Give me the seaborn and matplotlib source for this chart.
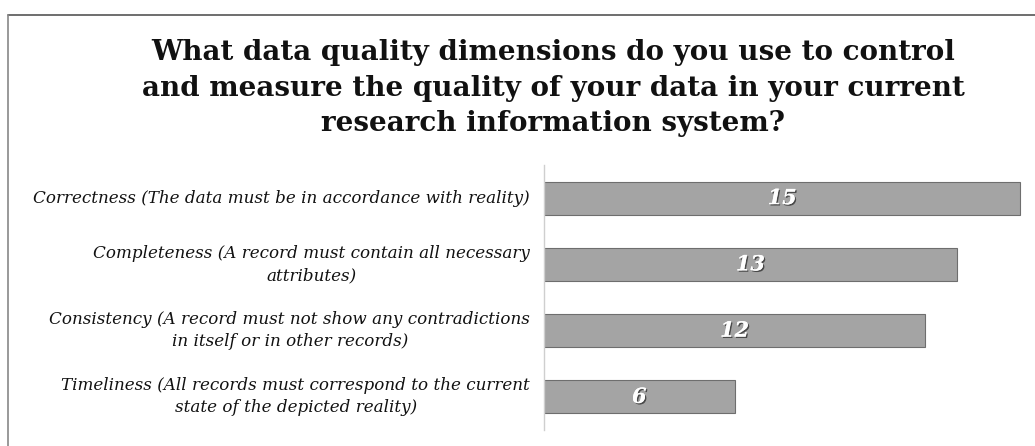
import matplotlib
matplotlib.use("Agg")
import matplotlib.pyplot as plt
import matplotlib.patheffects as pe
from matplotlib.lines import Line2D
import seaborn as sns
import pandas as pd

categories = [
    "Correctness (The data must be in accordance with reality)",
    "Completeness (A record must contain all necessary\nattributes)",
    "Consistency (A record must not show any contradictions\nin itself or in other records)",
    "Timeliness (All records must correspond to the current\nstate of the depicted reality)",
]
values = [15, 13, 12, 6]
title = ("What data quality dimensions do you use to control\n"
         "and measure the quality of your data in your current\n"
         "research information system?")

sns.set_theme(style="white")
plt.rcParams['font.family'] = ['DejaVu Serif']

df = pd.DataFrame({"dim": categories, "count": values})

fig = plt.figure(figsize=(10.35, 4.46), dpi=100)
ax = fig.add_axes([544/1035, 1-430/446, 478/1035, 265/446])

sns.barplot(data=df, y="dim", x="count", orient="h", ax=ax, width=0.5,
            color="#a4a4a4", edgecolor="#6e6e6e", linewidth=0.8, saturation=1)

ax.set_xlim(0, 15.05)
ax.set_ylim(3.5, -0.5)
ax.set_xlabel("")
ax.set_ylabel("")
ax.set_xticks([])
for s in ["top", "right", "bottom"]:
    ax.spines[s].set_visible(False)
ax.spines["left"].set_color("#cfcfcf")
ax.spines["left"].set_linewidth(1.0)
ax.tick_params(axis="y", length=0, pad=10)
for lbl in ax.get_yticklabels():
    lbl.set_fontstyle("italic")
    lbl.set_fontsize(12.1)
    lbl.set_multialignment("center")
    lbl.set_linespacing(1.4)
    lbl.set_verticalalignment("center")
    lbl.set_color("#111111")

for cont in ax.containers:
    for bar, v in zip(cont, values):
        cx = bar.get_x() + bar.get_width() / 2
        cy = bar.get_y() + bar.get_height() / 2
        ax.text(cx, cy, str(v), ha="center", va="center", color="white",
                fontsize=15, fontweight="bold", fontstyle="italic",
                path_effects=[pe.withSimplePatchShadow(offset=(1, -1), shadow_rgbFace="#333333", alpha=0.8), pe.Normal()])

fig.text(553/1035, 1-88/446, title, ha="center", va="center", fontsize=20,
         fontweight="bold", linespacing=1.42, color="#111111")

# figure frame (top and left edges)
fig.add_artist(Line2D([8/1035, 1.0], [1-15/446, 1-15/446], transform=fig.transFigure, color="#555555", lw=1.2))
fig.add_artist(Line2D([8/1035, 8/1035], [0, 1-15/446], transform=fig.transFigure, color="#888888", lw=1.2))

fig.savefig("out.png", dpi=100, facecolor="white")
